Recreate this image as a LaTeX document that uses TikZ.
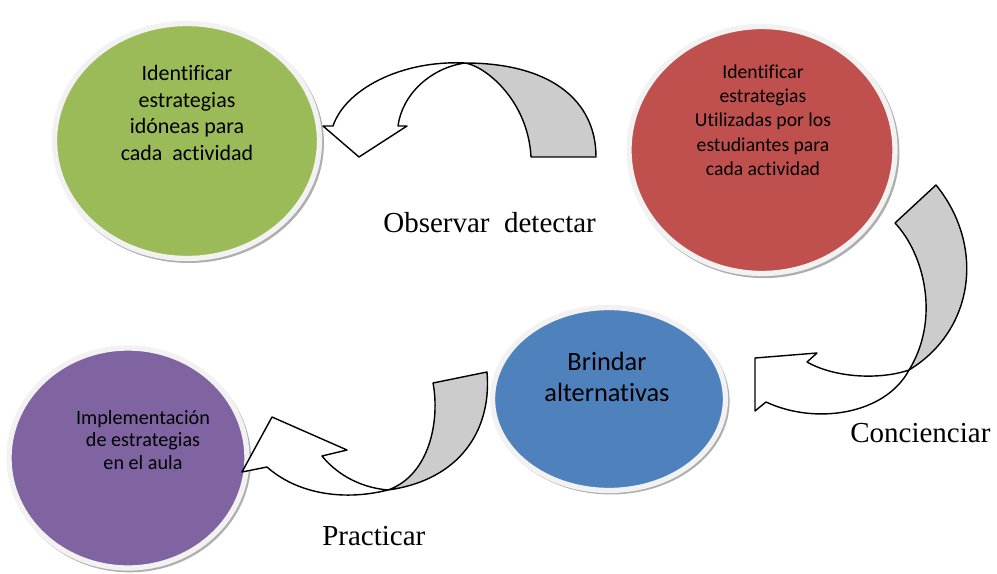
\documentclass[tikz,border=0pt]{standalone}
\usepackage{fontspec}
\setmainfont{Liberation Serif}
\newfontfamily\calibri[Ligatures=CommonOff]{Carlito}
\usepackage{tikz}
\usetikzlibrary{shapes.geometric,shadows}

\definecolor{leaf}{HTML}{9BBB59}
\definecolor{brick}{HTML}{C0504D}
\definecolor{steel}{HTML}{4F81BD}
\definecolor{plum}{HTML}{8064A2}
\definecolor{rim}{HTML}{F2F2F2}
\definecolor{fold}{HTML}{CCCCCC}

\begin{document}
\begin{tikzpicture}[
    x=0.02cm, y=-0.02cm,
    bubble/.style={ellipse, draw=rim, line width=3pt, inner sep=0pt,
        drop shadow={shadow xshift=1pt, shadow yshift=-1.2pt, shadow scale=1.02, fill=black!45, opacity=0.7}},
    words/.style={align=center, inner sep=0pt},
    tag/.style={anchor=base west, inner sep=0pt, font=\fontsize{16.5}{20}\selectfont},
    ribbon/.style={draw=black, line width=0.8pt, line join=round, fill=white},
    back/.style={ribbon, fill=fold}
]
    \useasboundingbox (0,0) rectangle (997,574);

    % the four steps
    \node[bubble, fill=leaf, minimum width=5.3cm, minimum height=4.7cm] (idoneas) at (187,141) {};
    \node[bubble, fill=brick, minimum width=5.32cm, minimum height=4.94cm] (utilizadas) at (762,150) {};
    \node[bubble, fill=steel, minimum width=4.66cm, minimum height=3.66cm] (brindar) at (609,399) {};
    \node[bubble, fill=plum, minimum width=4.76cm, minimum height=4.4cm] (aula) at (128,458) {};

    \node[words, font=\calibri\fontsize{12.5}{15.3}\selectfont] (idoneastxt) at (187,113)
        {Identificar\\estrategias\\idóneas para\\cada\ \ actividad};
    \node[words, font=\calibri\fontsize{11.2}{13.8}\selectfont] (utilizadastxt) at (763,120)
        {Identificar\\estrategias\\Utilizadas por los\\estudiantes para\\cada actividad};
    \node[words, font=\calibri\fontsize{15}{18}\selectfont] (brindartxt) at (607,377)
        {Brindar\\alternativas};
    \node[words, font=\calibri\fontsize{11.5}{12.8}\selectfont] (aulatxt) at (143,440)
        {Implementación\\de estrategias\\en el aula};

    % curved arrows
    \draw[back] (596,157) .. controls (596,100) and (550,63) .. (465,63)
        .. controls (485,66) and (528,100) .. (531,157) -- cycle;
    \draw[ribbon] (465,63) .. controls (400,60) and (345,90) .. (333,126) -- (323,126) -- (359,157)
        -- (407,126) -- (398,126) .. controls (402,95) and (430,68) .. (465,63) -- cycle;

    \draw[back] (895,223) -- (936,185) .. controls (985,245) and (975,330) .. (909,370)
        .. controls (940,320) and (925,255) .. (895,223) -- cycle;
    \draw[ribbon] (909,370) .. controls (885,415) and (815,425) .. (766,402) -- (755,411) -- (755,358)
        -- (817,353) -- (807,362) .. controls (835,378) and (880,380) .. (909,370) -- cycle;

    \draw[back] (433,383) -- (487,372) .. controls (492,430) and (460,480) .. (388,490)
        .. controls (430,475) and (440,420) .. (433,383) -- cycle;
    \draw[ribbon] (388,490) .. controls (340,502) and (295,492) .. (267,467) -- (242,472) -- (272,417)
        -- (347,450) -- (322,456) .. controls (340,478) and (365,488) .. (388,490) -- cycle;

    % labels
    \node[tag] (observar) at (383,233) {Observar\ \ detectar};
    \node[tag] (concienciar) at (850,442) {Concienciar};
    \node[tag] (practicar) at (322,545) {Practicar};
\end{tikzpicture}
\end{document}
